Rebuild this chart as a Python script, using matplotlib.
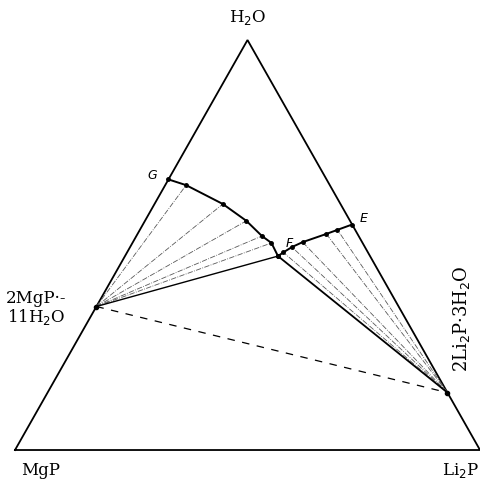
import matplotlib.pyplot as plt

# compositions as (H2O fraction, Li2P fraction), the rest is MgP
mg_hydrate = (0.35, 0.0)     # 2MgP.11H2O
li_hydrate = (0.14, 0.86)    # 2Li2P.3H2O
G = (0.66, 0.0)
F = (0.473, 0.329)
E = (0.55, 0.45)

# curve G -> F (saturated with the Mg salt)
gf_h = [0.66, 0.646, 0.600, 0.559, 0.522, 0.505, 0.473]
gf_l = [0.0, 0.045, 0.147, 0.218, 0.270, 0.299, 0.329]
# curve F -> E (saturated with the Li salt)
fe_h = [0.473, 0.482, 0.495, 0.507, 0.527, 0.537, 0.55]
fe_l = [0.329, 0.336, 0.348, 0.365, 0.406, 0.425, 0.45]


def xy(h, l):
    # ternary -> cartesian, x along MgP-Li2P, y = water fraction
    return l + h / 2.0, h


fig = plt.figure(figsize=(4.8, 4.79), dpi=100)
ax = fig.add_axes([0, 0, 1, 1])
ax.set_xlim(-0.0323, 1.0)
ax.set_ylim(-0.0707, 1.0976)
ax.axis("off")

# triangle
tx, ty = zip(*[xy(0, 0), xy(0, 1), xy(1, 0), xy(0, 0)])
ax.plot(tx, ty, color="black", lw=1.3, solid_joinstyle="miter")

mx, my = xy(*mg_hydrate)
lx, ly = xy(*li_hydrate)
fx, fy = xy(*F)

# tie lines from the Mg hydrate
for h, l in zip(gf_h[1:-1], gf_l[1:-1]):
    px, py = xy(h, l)
    ax.plot([mx, px], [my, py], color="0.35", lw=0.6, ls="-.")
# tie lines from the Li hydrate
for h, l in zip(fe_h[1:-1], fe_l[1:-1]):
    px, py = xy(h, l)
    ax.plot([lx, px], [ly, py], color="0.35", lw=0.6, ls="-.")

# three-phase triangle
ax.plot([mx, fx], [my, fy], color="black", lw=1.0)
ax.plot([fx, lx], [fy, ly], color="black", lw=1.3)
ax.plot([mx, lx], [my, ly], color="black", lw=0.9, ls=(0, (6, 6)))

# solubility curves
cx, cy = zip(*[xy(h, l) for h, l in zip(gf_h, gf_l)])
ax.plot(cx, cy, color="black", lw=1.4, marker="o", ms=2.5)
cx, cy = zip(*[xy(h, l) for h, l in zip(fe_h, fe_l)])
ax.plot(cx, cy, color="black", lw=1.4, marker="o", ms=2.5)
ax.plot([mx, lx], [my, ly], ls="none", marker="o", ms=3, color="black")

serif = dict(family="DejaVu Serif", fontsize=12, color="black")
ax.text(0.5, 1.054, "H$_2$O", ha="center", va="center", **serif)
ax.text(0.055, -0.05, "MgP", ha="center", va="center", **serif)
ax.text(0.999, -0.05, "Li$_2$P", ha="right", va="center", **serif)
ax.text(0.045, 0.345, "2MgP·-\n11H$_2$O", ha="center", va="center",
        linespacing=1.0, **serif)
ax.text(0.96, 0.32, "2Li$_2$P·3H$_2$O", ha="center", va="center",
        rotation=90, family="DejaVu Serif", fontsize=13, color="black")

ital = dict(family="DejaVu Sans", fontsize=9, style="italic", color="black")
gx, gy = xy(*G)
ex, ey = xy(*E)
ax.text(gx - 0.035, gy + 0.01, "G", ha="center", va="center", **ital)
ax.text(fx + 0.025, fy + 0.03, "F", ha="center", va="center", **ital)
ax.text(ex + 0.025, ey + 0.015, "E", ha="center", va="center", **ital)

fig.savefig("out.png", dpi=100)
